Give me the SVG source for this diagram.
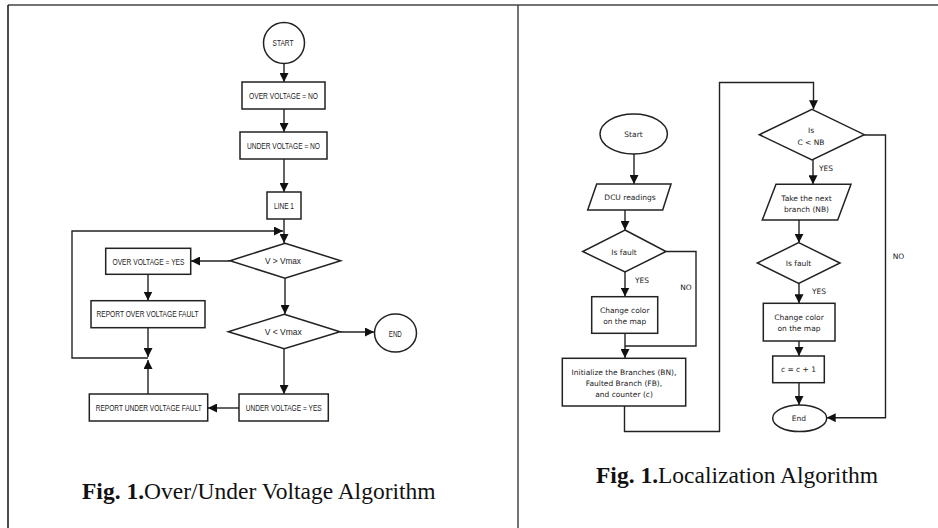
<svg xmlns="http://www.w3.org/2000/svg" width="938" height="528" viewBox="0 0 938 528">
<defs>
<marker id="ah" viewBox="0 0 10 10" refX="10" refY="5" markerWidth="9" markerHeight="9" markerUnits="userSpaceOnUse" orient="auto">
<path d="M0,0 L10,5 L0,10 z" fill="#111"/>
</marker>
<style>
.sh{fill:#fff;stroke:#222;stroke-width:1.5}
.ln{fill:none;stroke:#222;stroke-width:1.4}
.ar{fill:none;stroke:#222;stroke-width:1.4;marker-end:url(#ah)}
.lt{font-family:"Liberation Sans Narrow","Liberation Sans",Arial,sans-serif;font-size:8.5px;fill:#222;text-anchor:middle}
.rt{font-family:"DejaVu Sans","Noto Sans",sans-serif;font-size:7.5px;fill:#222;text-anchor:middle}
.cap{font-family:"Liberation Serif","Times New Roman",serif;font-size:23.5px;fill:#111}
.fr{stroke:#444;stroke-width:1.5;fill:none}
</style>
</defs>
<rect width="938" height="528" fill="#fff"/>
<g id="frame">
<line class="fr" x1="8" y1="5" x2="938" y2="5"/>
<line x1="8" y1="5" x2="8" y2="528" stroke="#111" stroke-width="1.5"/>
<line class="fr" x1="518" y1="5" x2="518" y2="528"/>
</g>
<g id="connectors">
<line class="ar" x1="284" y1="64" x2="284" y2="82"/>
<line class="ar" x1="284" y1="109" x2="284" y2="132"/>
<line class="ar" x1="284" y1="159" x2="284" y2="192"/>
<line class="ar" x1="284" y1="219" x2="284" y2="243"/>
<path class="ar" d="M148,358 H72 V231 H283"/>
<line class="ar" x1="148" y1="328" x2="148" y2="357"/>
<line class="ar" x1="148" y1="394" x2="148" y2="360"/>
<line class="ar" x1="230" y1="261" x2="191" y2="261"/>
<line class="ar" x1="148" y1="274" x2="148" y2="300.5"/>
<line class="ar" x1="285" y1="278" x2="285" y2="314"/>
<line class="ar" x1="340" y1="332" x2="374" y2="332"/>
<line class="ar" x1="284" y1="349" x2="284" y2="394"/>
<line class="ar" x1="239" y1="408" x2="208" y2="408"/>
<line class="ar" x1="634" y1="154" x2="634" y2="184"/>
<line class="ar" x1="625" y1="210" x2="625" y2="230"/>
<line class="ar" x1="625" y1="272" x2="625" y2="296.5"/>
<line class="ar" x1="625" y1="333" x2="625" y2="358"/>
<path class="ln" d="M666,251.5 H696 V346 H625"/>
<path class="ar" d="M624.5,406 V431.5 H719.5 V82.5 H813.5 V109.3"/>
<line class="ar" x1="813" y1="160" x2="813" y2="184.3"/>
<line class="ar" x1="799" y1="220" x2="799" y2="242.7"/>
<line class="ar" x1="799" y1="283" x2="799" y2="303.3"/>
<line class="ar" x1="799" y1="341" x2="799" y2="356"/>
<line class="ar" x1="799" y1="382.7" x2="799" y2="405"/>
<path class="ar" d="M864.3,135 H885.5 V417.7 H826.7"/>
</g>
<g id="start"><circle class="sh" cx="284" cy="43" r="20.5"/><text class="lt" x="283" y="46" textLength="21" lengthAdjust="spacingAndGlyphs">START</text></g>
<g id="ov-no"><rect class="sh" x="242" y="82" width="83" height="27"/><text class="lt" x="283.5" y="98.5" textLength="69" lengthAdjust="spacingAndGlyphs">OVER VOLTAGE = NO</text></g>
<g id="uv-no"><rect class="sh" x="240" y="132" width="87" height="27"/><text class="lt" x="283.5" y="148.5" textLength="73" lengthAdjust="spacingAndGlyphs">UNDER VOLTAGE = NO</text></g>
<g id="line1"><rect class="sh" x="267" y="192" width="34" height="27"/><text class="lt" x="284" y="208.5" textLength="20" lengthAdjust="spacingAndGlyphs">LINE 1</text></g>
<g id="d-vgt"><polygon class="sh" points="285,243.3 340.7,260.7 285,278.3 230,260.7"/><text class="lt" x="283" y="264" textLength="36" lengthAdjust="spacingAndGlyphs">V &gt; Vmax</text></g>
<g id="ov-yes"><rect class="sh" x="105.7" y="248.3" width="85" height="26"/><text class="lt" x="148.5" y="264.5" textLength="72" lengthAdjust="spacingAndGlyphs">OVER VOLTAGE = YES</text></g>
<g id="rep-ov"><rect class="sh" x="91" y="300.7" width="114" height="27"/><text class="lt" x="147.5" y="317" textLength="102" lengthAdjust="spacingAndGlyphs">REPORT OVER VOLTAGE FAULT</text></g>
<g id="d-vlt"><polygon class="sh" points="284.2,314.3 340,331.7 284.2,348.7 228.3,331.7"/><text class="lt" x="283.3" y="335" textLength="37" lengthAdjust="spacingAndGlyphs">V &lt; Vmax</text></g>
<g id="end-l"><ellipse class="sh" cx="395.5" cy="333" rx="21" ry="19"/><text class="lt" x="395.3" y="336.5" textLength="13" lengthAdjust="spacingAndGlyphs">END</text></g>
<g id="uv-yes"><rect class="sh" x="239" y="394" width="89.3" height="27"/><text class="lt" x="283.7" y="410.5" textLength="76" lengthAdjust="spacingAndGlyphs">UNDER VOLTAGE = YES</text></g>
<g id="rep-uv"><rect class="sh" x="89.3" y="394" width="118.4" height="27"/><text class="lt" x="148.7" y="410.5" textLength="106" lengthAdjust="spacingAndGlyphs">REPORT UNDER VOLTAGE FAULT</text></g>
<g id="start-r"><ellipse class="sh" cx="633.7" cy="134" rx="33.7" ry="20"/><text class="rt" x="633.5" y="137">Start</text></g>
<g id="dcu"><polygon class="sh" points="596.7,184 671,184 662.7,210 587.7,210"/><text class="rt" x="630" y="200">DCU readings</text></g>
<g id="isfault1"><polygon class="sh" points="625,230 666,251.5 625,272 582.7,251.5"/><text class="rt" x="624" y="254.5">Is fault</text></g>
<g id="chg1"><rect class="sh" x="591.7" y="296.7" width="66" height="36.6"/><text class="rt" x="624.7" y="313">Change color</text><text class="rt" x="624.7" y="324">on the map</text></g>
<g id="init"><rect class="sh" x="562.3" y="358.3" width="123.4" height="47.7"/><text class="rt" x="624" y="375">Initialize the Branches (BN),</text><text class="rt" x="624" y="386">Faulted Branch (FB),</text><text class="rt" x="624" y="397">and counter (c)</text></g>
<g id="isc"><polygon class="sh" points="812,109.3 864.3,134.7 812,160 759.3,134.7"/><text class="rt" x="811" y="133">Is</text><text class="rt" x="811" y="145">C &lt; NB</text></g>
<g id="take"><polygon class="sh" points="776,184.3 851,184.3 837.7,220 762.3,220"/><text class="rt" x="806.5" y="201">Take the next</text><text class="rt" x="806.5" y="211.5">branch (NB)</text></g>
<g id="isfault2"><polygon class="sh" points="798.7,242.7 840,263 798.7,283.3 757.3,263"/><text class="rt" x="798.5" y="266">Is fault</text></g>
<g id="chg2"><rect class="sh" x="763.3" y="303.3" width="71.7" height="37.7"/><text class="rt" x="799" y="320">Change color</text><text class="rt" x="799" y="331">on the map</text></g>
<g id="inc"><rect class="sh" x="772.7" y="356" width="51.6" height="26.7"/><text class="rt" x="798.5" y="372">c = c + 1</text></g>
<g id="end-r"><ellipse class="sh" cx="799.7" cy="418.3" rx="27" ry="13.3"/><text class="rt" x="799" y="421">End</text></g>
<g id="labels">
<text class="rt" x="642" y="283">YES</text>
<text class="rt" x="686" y="290">NO</text>
<text class="rt" x="826" y="171">YES</text>
<text class="rt" x="898.5" y="259">NO</text>
<text class="rt" x="819" y="294">YES</text>
</g>
<g id="captions">
<text class="cap" x="82" y="499"><tspan font-weight="bold">Fig. 1.</tspan>Over/Under Voltage Algorithm</text>
<text class="cap" x="596" y="483"><tspan font-weight="bold">Fig. 1.</tspan>Localization Algorithm</text>
</g>
</svg>
